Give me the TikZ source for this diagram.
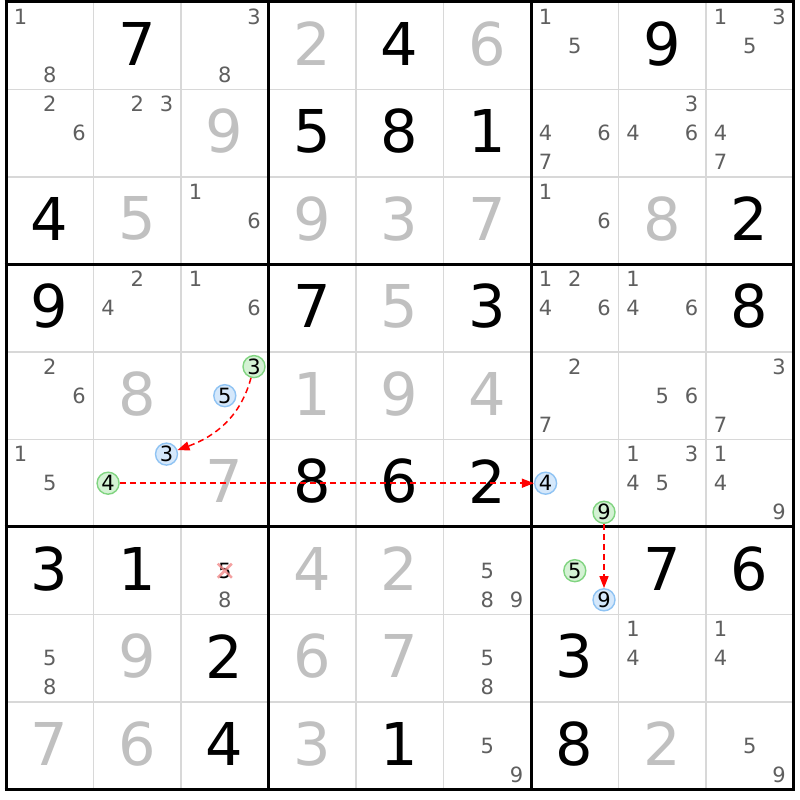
\documentclass[tikz,border=0pt]{standalone}
\usepackage{fontspec}
\setmainfont{DejaVu Sans}
\usetikzlibrary{arrows.meta}

\definecolor{solvedgray}{HTML}{C0C0C0}
\definecolor{pencilgray}{HTML}{5F5F5F}
\definecolor{cellline}{HTML}{D8D8D8}
\definecolor{onfill}{HTML}{D4F2D4}
\definecolor{ondraw}{HTML}{80D480}
\definecolor{offfill}{HTML}{D5E8FB}
\definecolor{offdraw}{HTML}{8FC3F3}
\definecolor{linkred}{HTML}{FF0000}
\definecolor{crossred}{HTML}{F28A8A}

\tikzset{
  given/.style={font=\fontsize{59}{59}\selectfont, text=black, inner sep=0pt},
  solved/.style={given, text=solvedgray},
  pencil/.style={font=\fontsize{21}{21}\selectfont, text=pencilgray, inner sep=0pt},
  oncand/.style={circle, draw=ondraw, fill=onfill, line width=1.4pt,
    minimum size=22pt, inner sep=0pt, font=\fontsize{21}{21}\selectfont, text=black},
  offcand/.style={oncand, draw=offdraw, fill=offfill},
  chain/.style={draw=linkred, line width=1.5pt, dash pattern=on 6pt off 4pt,
    -{Triangle[length=12pt,width=9pt]}}
}

\begin{document}
\begin{tikzpicture}[x=1pt,y=1pt]
    % Page with its margins
    \useasboundingbox[fill=white] (0,0) rectangle (800,800);

    % Thin cell lines
    \foreach \i in {1,2,4,5,7,8} {
        \draw[cellline, line width=1.5pt] ({6+\i*87.5},10.5) -- ({6+\i*87.5},798);
        \draw[cellline, line width=1.5pt] (6,{798-\i*87.5}) -- (793.5,{798-\i*87.5});
    }
    % Thick box lines
    \foreach \i in {0,3,6,9} {
        \draw[black, line width=3pt] ({6+\i*87.5},9) -- ({6+\i*87.5},799.5);
        \draw[black, line width=3pt] (4.5,{798-\i*87.5}) -- (795,{798-\i*87.5});
    }

    % Given digits
    \foreach \c/\r/\d in {2/1/7, 5/1/4, 8/1/9, 4/2/5, 5/2/8, 6/2/1, 1/3/4, 9/3/2,
        1/4/9, 4/4/7, 6/4/3, 9/4/8, 4/6/8, 5/6/6, 6/6/2, 1/7/3, 2/7/1, 8/7/7,
        9/7/6, 3/8/2, 7/8/3, 3/9/4, 5/9/1, 7/9/8}
        \node[given] (g\c\r) at ({6+(\c-0.5)*87.5},{800-(\r-0.5)*87.5}) {\d};

    % Solved digits
    \foreach \c/\r/\d in {4/1/2, 6/1/6, 3/2/9, 2/3/5, 4/3/9, 5/3/3, 6/3/7, 8/3/8,
        5/4/5, 2/5/8, 4/5/1, 5/5/9, 6/5/4, 3/6/7, 4/7/4, 5/7/2, 2/8/9, 4/8/6,
        5/8/7, 1/9/7, 2/9/6, 4/9/3, 8/9/2}
        \node[solved] (s\c\r) at ({6+(\c-0.5)*87.5},{800-(\r-0.5)*87.5}) {\d};

    % Pencil marks
    \foreach \c/\r/\d in {1/1/1, 1/1/8, 3/1/3, 3/1/8, 7/1/1, 7/1/5, 9/1/1, 9/1/3, 9/1/5,
        1/2/2, 1/2/6, 2/2/2, 2/2/3, 7/2/4, 7/2/6, 7/2/7, 8/2/3, 8/2/4, 8/2/6, 9/2/4, 9/2/7,
        3/3/1, 3/3/6, 7/3/1, 7/3/6,
        2/4/2, 2/4/4, 3/4/1, 3/4/6, 7/4/1, 7/4/2, 7/4/4, 7/4/6, 8/4/1, 8/4/4, 8/4/6,
        1/5/2, 1/5/6, 7/5/2, 7/5/7, 8/5/5, 8/5/6, 9/5/3, 9/5/7,
        1/6/1, 1/6/5, 8/6/1, 8/6/3, 8/6/4, 8/6/5, 9/6/1, 9/6/4, 9/6/9,
        3/7/8, 6/7/5, 6/7/8, 6/7/9,
        1/8/5, 1/8/8, 6/8/5, 6/8/8, 8/8/1, 8/8/4, 9/8/1, 9/8/4,
        6/9/5, 6/9/9, 9/9/5, 9/9/9} {
        \pgfmathsetmacro\px{6+(\c-1)*87.5+14.6+mod(\d-1,3)*29.2}
        \pgfmathsetmacro\py{798-(\r-1)*87.5-14.6-div(\d-1,3)*29.1}
        \node[pencil] (p\c\r\d) at (\px,\py) {\d};
    }

    % Eliminated candidate
    \node[pencil, text=black] (p375) at ({6+2*87.5+43.8},{798-6*87.5-43.7}) {5};
    \draw[crossred, line width=2.6pt, opacity=0.8]
        ([shift={(-7,-7)}]p375.center) -- ([shift={(7,7)}]p375.center)
        ([shift={(-7,7)}]p375.center) -- ([shift={(7,-7)}]p375.center);

    % Chain candidates
    \foreach \c/\r/\d/\kind in {3/5/3/oncand, 3/5/5/offcand, 2/6/3/offcand, 2/6/4/oncand,
        7/6/4/offcand, 7/6/9/oncand, 7/7/5/oncand, 7/7/9/offcand} {
        \pgfmathsetmacro\px{6+(\c-1)*87.5+14.6+mod(\d-1,3)*29.2}
        \pgfmathsetmacro\py{798-(\r-1)*87.5-14.6-div(\d-1,3)*29.1}
        \node[\kind] (q\c\r\d) at (\px,\py) {\d};
    }

    % Links
    \draw[chain] (q353) to[out=255, in=20] (q263);
    \draw[chain] (q264) -- (q764);
    \draw[chain] (q769) -- (q779);
\end{tikzpicture}
\end{document}
